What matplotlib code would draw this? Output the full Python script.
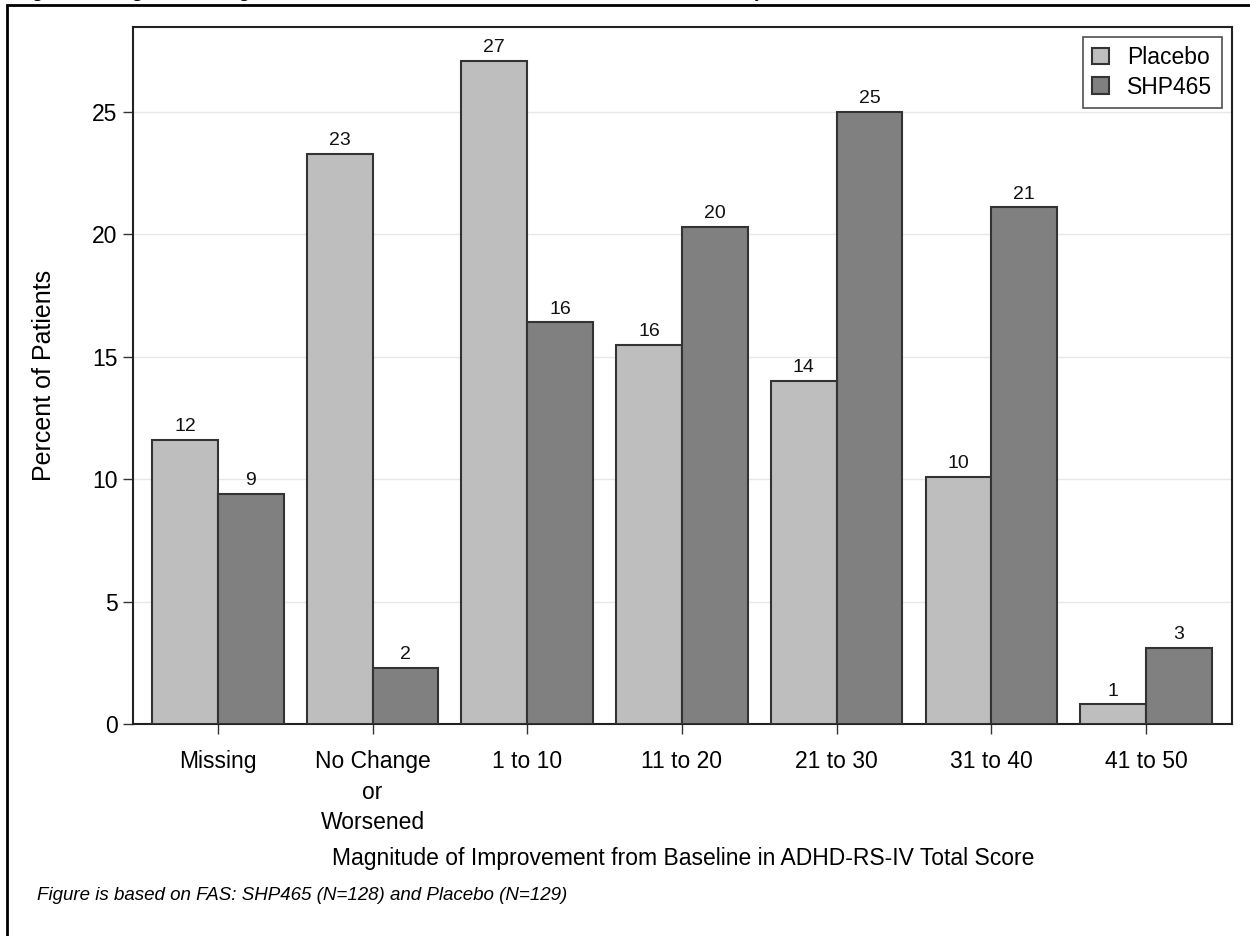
import matplotlib
matplotlib.use("Agg")
import matplotlib.pyplot as plt
from matplotlib.patches import Rectangle
import numpy as np

plt.rcParams['font.family'] = ['Liberation Sans', 'DejaVu Sans']

categories = ["Missing", "No Change\nor\nWorsened", "1 to 10", "11 to 20",
              "21 to 30", "31 to 40", "41 to 50"]
placebo = [11.6, 23.3, 27.1, 15.5, 14.0, 10.1, 0.8]
shp465 = [9.4, 2.3, 16.4, 20.3, 25.0, 21.1, 3.1]
placebo_labels = ["12", "23", "27", "16", "14", "10", "1"]
shp465_labels = ["9", "2", "16", "20", "25", "21", "3"]
yticks = [0, 5, 10, 15, 20, 25]

fig = plt.figure(figsize=(12.5, 9.36), dpi=100)
ax = fig.add_axes([133 / 1250, 1 - 724 / 936, (1232 - 133) / 1250, (724 - 27) / 936])

x = np.arange(len(categories))
w = 0.425
edge = "#333333"
b1 = ax.bar(x - w / 2, placebo, w, color="#bebebe", edgecolor=edge, linewidth=1.5,
            label="Placebo", zorder=3)
b2 = ax.bar(x + w / 2, shp465, w, color="#808080", edgecolor=edge, linewidth=1.5,
            label="SHP465", zorder=3)

for rect, lab in zip(b1, placebo_labels):
    ax.text(rect.get_x() + rect.get_width() / 2, rect.get_height() + 0.2, lab,
            ha="center", va="bottom", fontsize=14, color="#111111")
for rect, lab in zip(b2, shp465_labels):
    ax.text(rect.get_x() + rect.get_width() / 2, rect.get_height() + 0.2, lab,
            ha="center", va="bottom", fontsize=14, color="#111111")

ax.set_xlim(-0.548, 6.555)
ax.set_ylim(0, 28.47)
ax.set_yticks(yticks)
ax.set_xticks(x)
ax.set_xticklabels(categories, fontsize=16.5, linespacing=1.4)
ax.tick_params(axis="y", labelsize=16.5, length=7, width=1, color="#333333", pad=4)
ax.tick_params(axis="x", length=7, width=1, color="#333333", pad=12)
ax.yaxis.grid(True, color="#e8e8e8", linewidth=1, zorder=0)
ax.set_axisbelow(True)
for s in ax.spines.values():
    s.set_color("#222222")
    s.set_linewidth(1.5)

ax.set_ylabel("Percent of Patients", fontsize=18, labelpad=26)
fig.text(683 / 1250, 1 - 858 / 936, "Magnitude of Improvement from Baseline in ADHD-RS-IV Total Score",
         ha="center", va="center", fontsize=16.5)
fig.text(37 / 1250, 1 - 895 / 936, "Figure is based on FAS: SHP465 (N=128) and Placebo (N=129)",
         ha="left", va="center", fontsize=13.5, style="italic")

leg = ax.legend(loc="upper right", fontsize=16.5, frameon=True, fancybox=False,
                borderpad=0.4, handlelength=0.75, handleheight=0.75, handletextpad=0.8,
                labelspacing=0.3, borderaxespad=0.0, bbox_to_anchor=(0.9905, 0.986))
leg.get_frame().set_edgecolor("#222222")
leg.get_frame().set_linewidth(1.2)

# outer box of the output page
fig.patches.append(Rectangle((7 / 1250, -0.05), 1.1, 1 - 5.5 / 936 + 0.05,
                             transform=fig.transFigure, fill=False,
                             edgecolor="black", linewidth=2, clip_on=False))

# title line, cut off at the top of the page
fig.text(17 / 1250, 1 + 3 / 936,
         "Figure 4: Histogram of Change from Baseline in ADHD-RS-IV Total Score at Week 4 - Full Analysis Set",
         ha="left", va="baseline", fontsize=13, fontweight="bold",
         family=["Liberation Serif", "DejaVu Serif"])

fig.savefig("out.png", dpi=100)
